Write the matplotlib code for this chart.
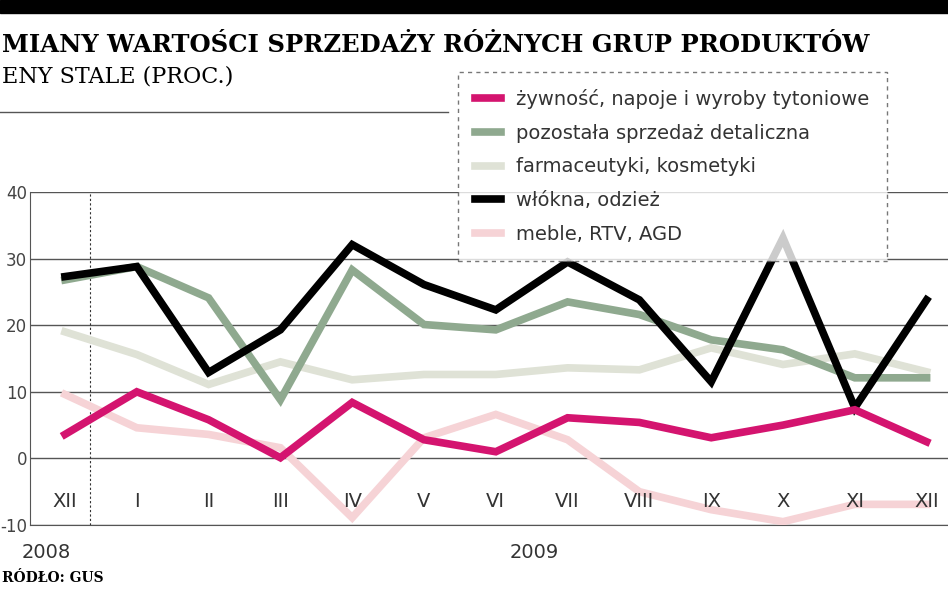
import matplotlib.pyplot as plt
from matplotlib.lines import Line2D

months = ["XII", "I", "II", "III", "IV", "V", "VI", "VII", "VIII", "IX", "X", "XI", "XII"]
y_ticks = [40, 30, 20, 10, 0, -10]
y_labels = ["40", "30", "20", "10", "0", "-10"]

food = [3.6, 10, 5.8, 0.1, 8.4, 2.8, 1, 6.1, 5.4, 3.1, 5, 7.3, 2.5]
other = [26.8, 28.8, 24.1, 8.8, 28.3, 20.1, 19.3, 23.5, 21.6, 17.8, 16.3, 12.1, 12.1]
pharma = [19, 15.6, 11.1, 14.5, 11.8, 12.6, 12.6, 13.6, 13.3, 16.6, 14.1, 15.7, 13]
textile = [27.3, 28.8, 12.9, 19.3, 32.1, 26.1, 22.3, 29.5, 23.8, 11.5, 33.1, 7.6, 23.8]
furniture = [9.6, 4.6, 3.6, 1.6, -8.9, 3.1, 6.6, 2.8, -5, -7.7, -9.5, -6.9, -6.9]

series = [
    ("meble, RTV, AGD", furniture, "#f6d3d6"),
    ("farmaceutyki, kosmetyki", pharma, "#dfe2d6"),
    ("pozostała sprzedaż detaliczna", other, "#8fa98f"),
    ("włókna, odzież", textile, "#000000"),
    ("żywność, napoje i wyroby tytoniowe", food, "#d4146f"),
]
legend_order = [4, 2, 1, 3, 0]

W, H = 948, 593
fig = plt.figure(figsize=(W / 100, H / 100), dpi=100)
fig.patch.set_facecolor("white")

# top black band
fig.patches.append(plt.Rectangle((0, 1 - 13 / H), 1, 13 / H, transform=fig.transFigure,
                                 color="black", zorder=0))
fig.text(2 / W, 1 - 45 / H, "MIANY WARTOŚCI SPRZEDAŻY RÓŻNYCH GRUP PRODUKTÓW",
         fontsize=17.5, fontweight="bold", family="DejaVu Serif", va="center")
fig.text(2 / W, 1 - 77 / H, "ENY STALE (PROC.)", fontsize=16, family="DejaVu Serif", va="center")
fig.add_artist(Line2D([0, 448 / W], [1 - 112 / H] * 2, transform=fig.transFigure,
                      color="#555555", lw=1))

x0, x1 = 30 / W, 948 / W
yb, yt = 1 - 525 / H, 1 - 192 / H
ax = fig.add_axes([x0, yb, x1 - x0, yt - yb])
xs = [(65 + i * 71.8 - 30) / 918 * 13.0 for i in range(len(months))]
ax.set_xlim(0, 13.0)
ax.set_ylim(-10, 40)
for v in y_ticks:
    ax.axhline(v, color="#555555", lw=1, zorder=1)
ax.axvline((90 - 30) / 918 * 13.0, color="#333333", lw=0.8, ls=(0, (2, 2)), zorder=1)
for name, vals, col in series:
    ax.plot(xs, vals, color=col, lw=5.5, solid_joinstyle="miter", zorder=3)
for x, m in zip(xs, months):
    ax.text(x, -6.5, m, ha="center", va="center", fontsize=14, color="#333333")
ax.set_yticks(y_ticks)
ax.set_yticklabels(y_labels, fontsize=12, color="#444444")
ax.tick_params(length=0, pad=2)
ax.set_xticks([])
for s in ["top", "right"]:
    ax.spines[s].set_visible(False)
ax.spines["left"].set_color("#555555")
ax.spines["bottom"].set_color("#555555")

fig.text(22 / W, 1 - 552 / H, "2008", fontsize=14, color="#333333", va="center")
fig.text(510 / W, 1 - 552 / H, "2009", fontsize=14, color="#333333", va="center")
fig.text(2 / W, 1 - 578 / H, "RÓDŁO: GUS", fontsize=10, family="DejaVu Serif",
         fontweight="bold", va="center")

handles = [Line2D([0], [0], color=series[i][2], lw=5.5) for i in legend_order]
labels = [series[i][0] for i in legend_order]
leg = fig.legend(handles, labels, loc="upper left", bbox_to_anchor=(448 / W, 1 - 62 / H),
                 frameon=True, fontsize=14, handlelength=1.3, labelspacing=0.75,
                 borderpad=0.9, fancybox=False, labelcolor="#333333")
leg.get_frame().set_edgecolor("#555555")
leg.get_frame().set_linestyle((0, (3, 3)))
leg.get_frame().set_linewidth(1)
leg.set_zorder(5)

fig.savefig("out.png", dpi=100)
